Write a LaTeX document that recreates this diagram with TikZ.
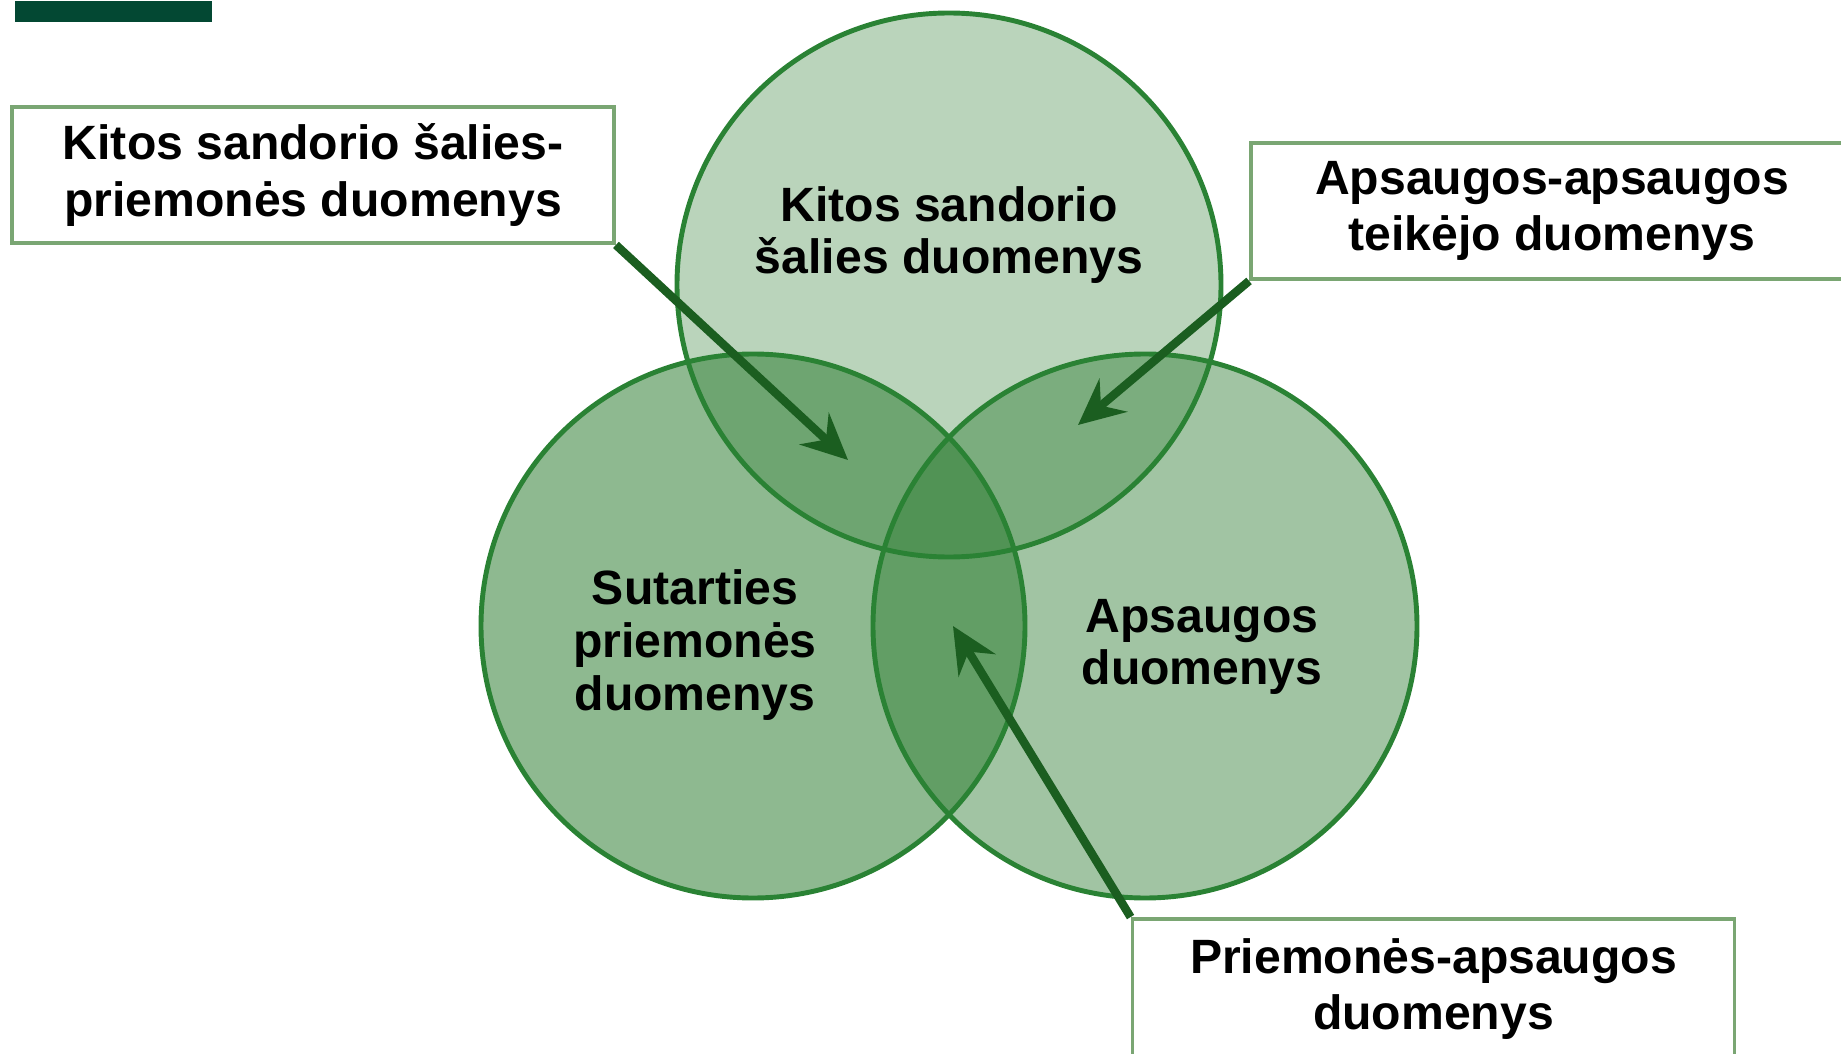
\documentclass[tikz,border=0pt]{standalone}
\usepackage{fontspec}
\setmainfont{Liberation Sans}
\usepackage{tikz}
\usetikzlibrary{arrows.meta}
\definecolor{vennfill}{RGB}{46,125,50}
\definecolor{vennline}{RGB}{42,130,52}
\definecolor{pointer}{RGB}{27,94,32}
\definecolor{boxline}{RGB}{122,166,115}
\definecolor{corner}{RGB}{3,72,51}

\begin{document}
\begin{tikzpicture}[
  set/.style={circle, minimum size=5.44cm, inner sep=0pt, fill=vennfill},
  ring/.style={draw=vennline, line width=1.4pt},
  setlabel/.style={align=center, font=\fontsize{13.7}{15}\selectfont\bfseries},
  callout/.style={draw=boxline, line width=1.1pt, fill=white, minimum width=6.02cm, minimum height=1.36cm, align=center, font=\fontsize{13.7}{16}\selectfont\bfseries},
  pointer/.style={-{Stealth[length=4.6mm,width=4.3mm,inset=1.6mm]}, draw=pointer, line width=2.4pt}
]
\useasboundingbox (0,0) rectangle (18.41,-10.54);
\node[fill=corner, inner sep=0pt, minimum width=1.97cm, minimum height=0.21cm, anchor=north west] (tab) at (0.14,0) {};

\node[set, fill opacity=0.33] (kitos) at (9.49,-2.85) {};
\node[set, fill opacity=0.54] (sutartis) at (7.53,-6.26) {};
\node[set, fill opacity=0.45] (apsauga) at (11.45,-6.26) {};
\foreach \s in {kitos,sutartis,apsauga}
  \draw[ring] (\s.center) circle[radius=2.72];

\node[setlabel] (kitoslbl) at (9.49,-2.35) {Kitos sandorio\\šalies duomenys};
\node[setlabel] (sutartislbl) at (6.95,-6.45) {Sutarties\\priemonės\\duomenys};
\node[setlabel] (apsaugalbl) at (12.02,-6.47) {Apsaugos\\duomenys};

\node[callout] (kitosbox) at (3.13,-1.75) {Kitos sandorio šalies-\\priemonės duomenys};
\node[callout] (apsaugabox) at (15.52,-2.11) {Apsaugos-apsaugos\\teikėjo duomenys};
\node[callout, minimum height=1.40cm] (priemonebox) at (14.335,-9.89) {Priemonės-apsaugos\\duomenys};

\coordinate (tipA) at (8.48,-4.60);
\coordinate (tipB) at (10.78,-4.25);
\coordinate (tipC) at (9.53,-6.26);
\draw[pointer] (kitosbox.south east) -- (tipA);
\draw[pointer] (apsaugabox.south west) -- (tipB);
\draw[pointer] (priemonebox.north west) -- (tipC);
\end{tikzpicture}
\end{document}
